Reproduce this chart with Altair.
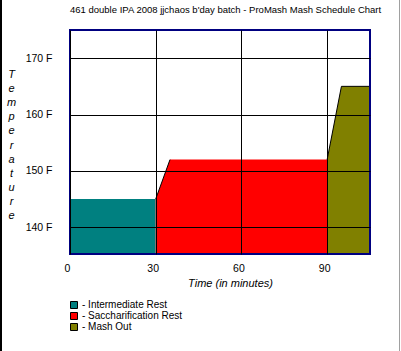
import altair as alt
import pandas as pd

# ---- data ----
stage_names = ["Intermediate Rest", "Saccharification Rest", "Mash Out"]
stage_colors = ["#008080", "#FF0000", "#808000"]

int_time = [0, 30]
int_temp = [145, 145]
sac_time = [30, 35, 90]
sac_temp = [145, 152, 152]
mash_time = [90, 95, 105]
mash_temp = [152, 165, 165]

ramp1_time = [30, 35]
ramp1_temp = [145, 152]
ramp2_time = [90, 95, 105]
ramp2_temp = [152, 165, 165]

x_ticks = [0, 30, 60, 90]
y_ticks = [140, 150, 160, 170]
x_domain = [0, 105]
y_domain = [135.25, 175]

title_text = "461 double IPA 2008 jjchaos b'day batch - ProMash Mash Schedule Chart"
x_title = "Time (in minutes)"
y_title = "Temperature"

rows = []
for name, ts, vs in zip(stage_names, [int_time, sac_time, mash_time], [int_temp, sac_temp, mash_temp]):
    for t, v in zip(ts, vs):
        rows.append({"stage": name, "time": t, "temp": v, "base": y_domain[0]})
area_df = pd.DataFrame(rows)

line_rows = []
for seg, ts, vs in [("r1", ramp1_time, ramp1_temp), ("r2", ramp2_time, ramp2_temp)]:
    for t, v in zip(ts, vs):
        line_rows.append({"seg": seg, "time": t, "temp": v})
line_df = pd.DataFrame(line_rows)

one_row = alt.Data(values=[{"k": 1}])

FONT = "Liberation Sans"
LBL = 10.5

xscale = alt.Scale(domain=x_domain, nice=False, zero=False)
yscale = alt.Scale(domain=y_domain, nice=False, zero=False)

areas = alt.Chart(area_df).mark_area(opacity=1, interpolate="linear").encode(
    x=alt.X("time:Q", scale=xscale,
            axis=alt.Axis(values=x_ticks, title=x_title, grid=True, gridColor="black",
                          gridOpacity=1, gridWidth=1, domain=False, ticks=False,
                          labelFont=FONT, labelFontSize=LBL, labelColor="black",
                          labelPadding=9, labelOffset=-3,
                          titleFont=FONT, titleFontSize=11, titleFontStyle="italic",
                          titleFontWeight="normal", titleColor="black",
                          titleX=160, titleY=29, titleBaseline="middle",
                          zindex=1, labelFlush=False)),
    y=alt.Y("temp:Q", scale=yscale,
            axis=alt.Axis(values=y_ticks, labelExpr="datum.value + ' F'",
                          grid=True, gridColor="black", gridOpacity=1, gridWidth=1,
                          domain=False, ticks=False,
                          labelFont=FONT, labelFontSize=LBL, labelColor="black",
                          labelPadding=18,
                          title=[c for c in y_title], titleAngle=0,
                          titleFont=FONT, titleFontSize=11, titleFontStyle="italic",
                          titleFontWeight="normal", titleColor="black",
                          titleLineHeight=14.2, titleX=-59, titleY=38,
                          titleBaseline="top", titleAlign="center",
                          zindex=1)),
    y2="base:Q",
    color=alt.Color("stage:N",
                    scale=alt.Scale(domain=stage_names, range=stage_colors),
                    legend=alt.Legend(orient="none", legendX=-1, legendY=270,
                                      title=None, symbolType="square", symbolSize=49,
                                      symbolStrokeColor="black", symbolStrokeWidth=1,
                                      symbolOpacity=1,
                                      labelExpr="'- ' + datum.label",
                                      labelFont=FONT, labelFontSize=10, labelColor="black",
                                      labelOffset=3, rowPadding=-1.3)),
)

edges = alt.Chart(line_df).mark_line(color="black", strokeWidth=1).encode(
    x=alt.X("time:Q", scale=xscale),
    y=alt.Y("temp:Q", scale=yscale),
    detail="seg:N",
)

border = alt.Chart(one_row).mark_rect(fill=None, stroke="#000080", strokeWidth=2).encode(
    x=alt.value(0), x2=alt.value(300), y=alt.value(0), y2=alt.value(224)
)

title_mark = alt.Chart(one_row).mark_text(
    text=title_text, font=FONT, fontSize=9.5, color="black", align="left", baseline="middle"
).encode(x=alt.value(0), y=alt.value(-20))

frame_left = alt.Chart(one_row).mark_rule(color="black", strokeWidth=2).encode(
    x=alt.value(-69), y=alt.value(-30), y2=alt.value(321)
)
frame_right = alt.Chart(one_row).mark_rule(color="#a0a0a0", strokeWidth=1).encode(
    x=alt.value(329.5), y=alt.value(-30), y2=alt.value(321)
)

chart = alt.layer(areas, edges, border, title_mark, frame_left, frame_right).properties(
    width=300, height=224,
    autosize=alt.AutoSizeParams(type="none"),
    padding={"left": 70, "top": 30, "right": 31, "bottom": 97},
).configure_view(stroke=None).configure(background="white")

chart.save("out.html", embed_options={"renderer": "svg", "actions": False})
